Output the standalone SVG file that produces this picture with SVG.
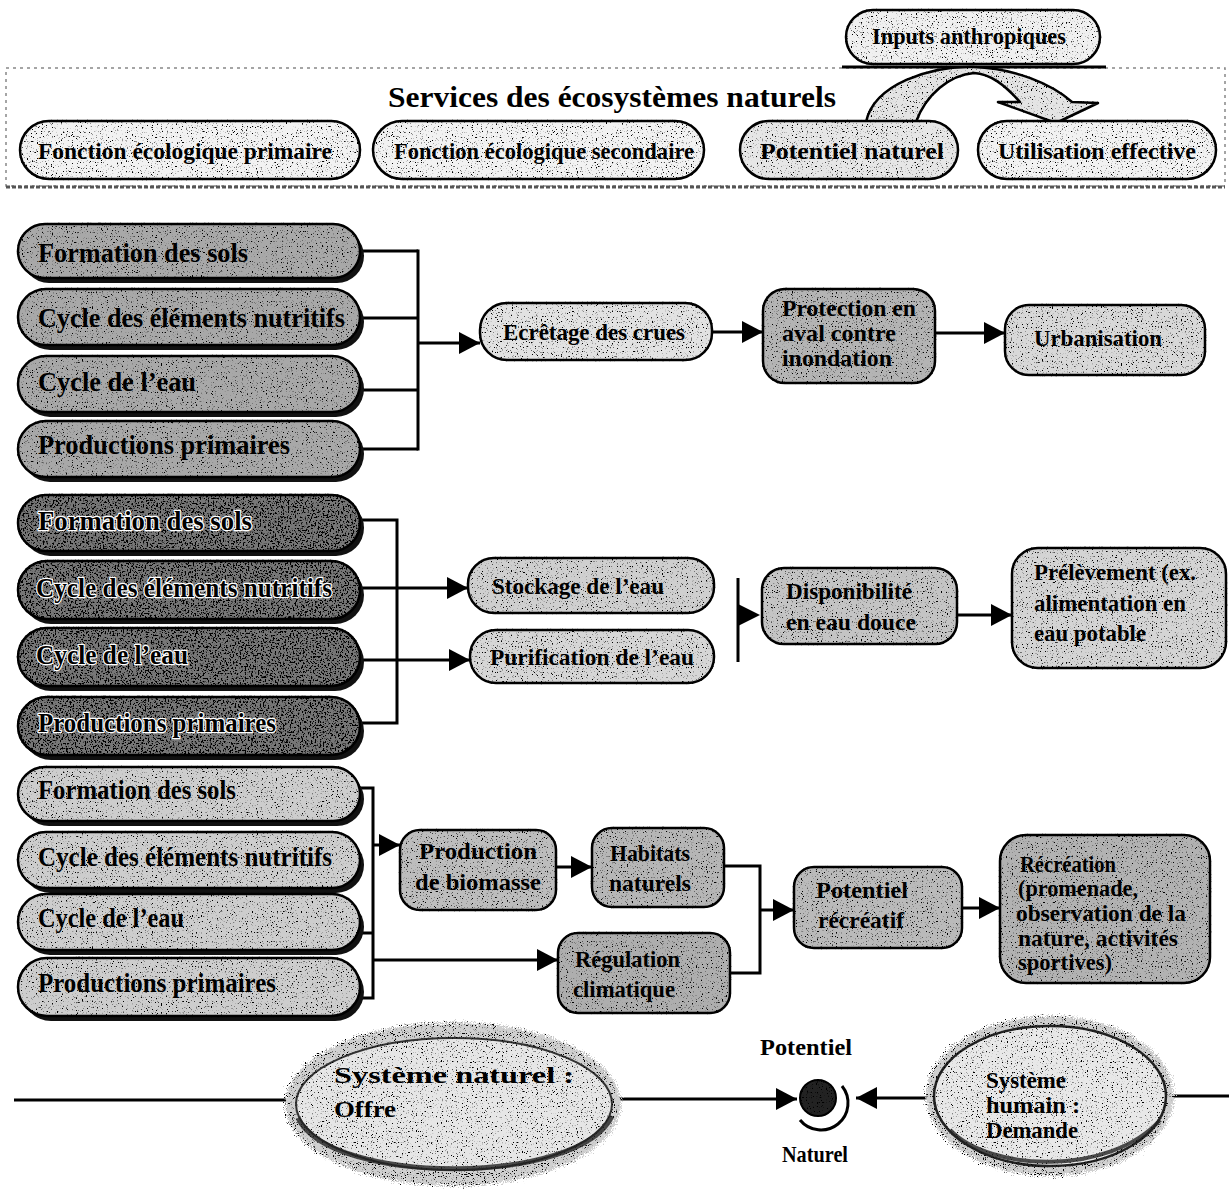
<svg xmlns="http://www.w3.org/2000/svg" width="1229" height="1192" viewBox="0 0 1229 1192">
<defs>
<style>
text{font-family:"Liberation Serif","Times New Roman",serif;font-weight:bold;fill:#000;}
.t26{font-size:28px;}
.t22{font-size:23.5px;}
.t21{font-size:22.5px;}
.halo{stroke:#fff;stroke-width:2.5px;paint-order:stroke;stroke-linejoin:round;}
.pill{stroke:#000;stroke-width:2.5;filter:url(#grain);}
.pillD{stroke:#000;stroke-width:2.5;filter:url(#grainD);}
.shadow{fill:#111;}
.conn{fill:none;stroke:#000;stroke-width:3;}
.arr{fill:none;stroke:#000;stroke-width:3;marker-end:url(#ah);}
.box{stroke:#000;stroke-width:2.5;filter:url(#grain);}
</style>
<filter id="grain" x="-5%" y="-5%" width="110%" height="110%">
<feTurbulence type="fractalNoise" baseFrequency="0.8" numOctaves="1" seed="7" result="noise"/>
<feColorMatrix in="noise" type="matrix" values="0 0 0 0 0  0 0 0 0 0  0 0 0 0 0  10 0 0 0 -6.0" result="dots"/>
<feComposite in="dots" in2="SourceGraphic" operator="in" result="clipped"/>
<feMerge><feMergeNode in="SourceGraphic"/><feMergeNode in="clipped"/></feMerge>
</filter>
<filter id="grainD" x="-5%" y="-5%" width="110%" height="110%">
<feTurbulence type="fractalNoise" baseFrequency="0.6" numOctaves="2" seed="3" result="noise"/>
<feColorMatrix in="noise" type="matrix" values="0 0 0 0 0  0 0 0 0 0  0 0 0 0 0  9 0 0 0 -4.6" result="dots"/>
<feComposite in="dots" in2="SourceGraphic" operator="in" result="clipped"/>
<feMerge><feMergeNode in="SourceGraphic"/><feMergeNode in="clipped"/></feMerge>
</filter>
<filter id="fuzz" x="-10%" y="-10%" width="120%" height="120%">
<feTurbulence type="fractalNoise" baseFrequency="0.9" numOctaves="1" seed="11" result="noise"/>
<feDisplacementMap in="SourceGraphic" in2="noise" scale="14" xChannelSelector="R" yChannelSelector="G" result="disp"/>
<feColorMatrix in="noise" type="matrix" values="0 0 0 0 0  0 0 0 0 0  0 0 0 0 0  10 0 0 0 -5.8" result="dots"/>
<feComposite in="dots" in2="disp" operator="in" result="clipped"/>
<feMerge><feMergeNode in="disp"/><feMergeNode in="clipped"/></feMerge>
</filter>
<marker id="ah" viewBox="0 0 10 10" refX="10" refY="5" markerWidth="21" markerHeight="22" markerUnits="userSpaceOnUse" orient="auto" preserveAspectRatio="none">
<path d="M0,0 L10,5 L0,10 z" fill="#000"/>
</marker>
</defs>
<rect width="1229" height="1192" fill="#fff"/>

<!-- top frame -->
<g id="frame">
<path d="M6,68 H1225 V186 H6 Z" fill="none" stroke="#888" stroke-width="1.5" stroke-dasharray="3 4"/>
<line x1="6" y1="187" x2="1225" y2="187" stroke="#555" stroke-width="3" stroke-dasharray="4 2"/>
<line x1="842" y1="67" x2="1106" y2="67" stroke="#000" stroke-width="3"/>
</g>

<g id="inputs-anthropiques">
<rect x="846" y="10" width="254" height="54" rx="27" fill="#f0f0f0" class="pill"/>
<text x="872" y="44" class="t21" textLength="194" lengthAdjust="spacingAndGlyphs">Inputs anthropiques</text>
</g>

<g id="title">
<text x="388" y="107" style="font-size:30px" textLength="448" lengthAdjust="spacingAndGlyphs">Services des écosystèmes naturels</text>
</g>

<g id="curved-arrow">
<path d="M866,122 C874,84 930,66 973,67 C1014,68 1052,84 1072,102 L1098,103 L1056,123 L998,102 L1020,102 C1004,84 990,74 974,73 C950,75 926,94 916,122 Z" fill="#e4e4e4" stroke="#000" stroke-width="2.5" stroke-linejoin="round" filter="url(#grain)"/>
</g>

<g id="fonction-primaire">
<rect x="20" y="121" width="340" height="58" rx="29" fill="#f2f2f2" class="pill"/>
<text x="38" y="159" class="t21" textLength="294" lengthAdjust="spacingAndGlyphs">Fonction écologique primaire</text>
</g>
<g id="fonction-secondaire">
<rect x="373" y="121" width="331" height="58" rx="29" fill="#f2f2f2" class="pill"/>
<text x="394" y="159" class="t21" textLength="300" lengthAdjust="spacingAndGlyphs">Fonction écologique secondaire</text>
</g>
<g id="potentiel-naturel">
<rect x="740" y="121" width="218" height="58" rx="29" fill="#e6e6e6" class="pill"/>
<text x="760" y="159" class="t21" textLength="184" lengthAdjust="spacingAndGlyphs">Potentiel naturel</text>
</g>
<g id="utilisation-effective">
<rect x="978" y="121" width="238" height="58" rx="29" fill="#f2f2f2" class="pill"/>
<text x="998" y="159" class="t21" textLength="198" lengthAdjust="spacingAndGlyphs">Utilisation effective</text>
</g>

<!-- connectors -->
<g id="connectors">
<!-- group 1 -->
<polyline class="conn" points="360,251 418,251"/>
<polyline class="conn" points="360,318 418,318"/>
<polyline class="conn" points="360,390 418,390"/>
<polyline class="conn" points="360,449 418,449"/>
<line class="conn" x1="418" y1="249.5" x2="418" y2="450.5"/>
<line class="arr" x1="418" y1="343" x2="480" y2="343"/>
<line class="arr" x1="712" y1="332" x2="763" y2="332"/>
<line class="arr" x1="935" y1="333" x2="1005" y2="333"/>
<!-- group 2 -->
<polyline class="conn" points="360,520 397,520 397,723 360,723"/>
<line class="arr" x1="360" y1="588" x2="468" y2="588"/>
<line class="arr" x1="360" y1="660" x2="470" y2="660"/>
<line class="conn" x1="738" y1="578" x2="738" y2="662"/>
<path d="M738,604 L760,615 L738,626 Z" fill="#000"/>
<line class="arr" x1="957" y1="615" x2="1012" y2="615"/>
<!-- group 3 -->
<polyline class="conn" points="360,788 373,788 373,998 360,998"/>
<line class="conn" x1="360" y1="933" x2="373" y2="933"/>
<line class="arr" x1="373" y1="845" x2="400" y2="845"/>
<line class="arr" x1="373" y1="960" x2="558" y2="960"/>
<line class="arr" x1="556" y1="867" x2="592" y2="867"/>
<polyline class="conn" points="724,866 760,866 760,973 730,973"/>
<line class="arr" x1="760" y1="910" x2="794" y2="910"/>
<line class="arr" x1="962" y1="908" x2="1000" y2="908"/>
<!-- bottom -->
<line class="conn" x1="14" y1="1100" x2="292" y2="1100"/>
<line class="arr" x1="616" y1="1099" x2="797" y2="1099"/>
<line class="arr" x1="935" y1="1098" x2="856" y2="1098"/>
<line class="conn" x1="1166" y1="1096" x2="1229" y2="1096"/>
</g>

<!-- group 1 pills -->
<g id="g1-formation-sols">
<rect x="22" y="229" width="342" height="54" rx="27" class="shadow"/>
<rect x="18" y="224" width="342" height="54" rx="27" fill="#a8a8a8" class="pill"/>
<text x="38" y="262" class="t26" textLength="210" lengthAdjust="spacingAndGlyphs">Formation des sols</text>
</g>
<g id="g1-cycle-nutritifs">
<rect x="22" y="294" width="342" height="56" rx="28" class="shadow"/>
<rect x="18" y="289" width="342" height="56" rx="28" fill="#a8a8a8" class="pill"/>
<text x="38" y="327" class="t26" textLength="307" lengthAdjust="spacingAndGlyphs">Cycle des éléments nutritifs</text>
</g>
<g id="g1-cycle-eau">
<rect x="22" y="361" width="342" height="56" rx="28" class="shadow"/>
<rect x="18" y="356" width="342" height="56" rx="28" fill="#a8a8a8" class="pill"/>
<text x="38" y="391" class="t26" textLength="158" lengthAdjust="spacingAndGlyphs">Cycle de l’eau</text>
</g>
<g id="g1-productions">
<rect x="22" y="426" width="342" height="56" rx="28" class="shadow"/>
<rect x="18" y="421" width="342" height="56" rx="28" fill="#a8a8a8" class="pill"/>
<text x="38" y="454" class="t26" textLength="252" lengthAdjust="spacingAndGlyphs">Productions primaires</text>
</g>

<g id="ecretage">
<rect x="480" y="303" width="232" height="57" rx="27" fill="#e2e2e2" class="box"/>
<text x="503" y="340" class="t22" textLength="182" lengthAdjust="spacingAndGlyphs">Ecrêtage des crues</text>
</g>
<g id="protection">
<rect x="763" y="289" width="172" height="94" rx="22" fill="#b4b4b4" class="box" stroke-width="3"/>
<text x="782" y="316" class="t22" textLength="134" lengthAdjust="spacingAndGlyphs">Protection en</text>
<text x="782" y="341" class="t22" textLength="114" lengthAdjust="spacingAndGlyphs">aval contre</text>
<text x="782" y="366" class="t22" textLength="110" lengthAdjust="spacingAndGlyphs">inondation</text>
</g>
<g id="urbanisation">
<rect x="1005" y="305" width="200" height="70" rx="24" fill="#d8d8d8" class="box"/>
<text x="1034" y="346" class="t22" textLength="128" lengthAdjust="spacingAndGlyphs">Urbanisation</text>
</g>

<!-- group 2 pills -->
<g id="g2-formation-sols">
<rect x="22" y="500" width="342" height="56" rx="28" class="shadow"/>
<rect x="18" y="495" width="342" height="56" rx="28" fill="#777" class="pillD"/>
<text x="38" y="530" class="t26 halo" textLength="214" lengthAdjust="spacingAndGlyphs">Formation des sols</text>
</g>
<g id="g2-cycle-nutritifs">
<rect x="22" y="566" width="342" height="58" rx="29" class="shadow"/>
<rect x="18" y="561" width="342" height="58" rx="29" fill="#777" class="pillD"/>
<text x="36" y="597" class="t26 halo" textLength="296" lengthAdjust="spacingAndGlyphs">Cycle des éléments nutritifs</text>
</g>
<g id="g2-cycle-eau">
<rect x="22" y="633" width="342" height="58" rx="29" class="shadow"/>
<rect x="18" y="628" width="342" height="58" rx="29" fill="#777" class="pillD"/>
<text x="36" y="664" class="t26 halo" textLength="152" lengthAdjust="spacingAndGlyphs">Cycle de l’eau</text>
</g>
<g id="g2-productions">
<rect x="22" y="702" width="342" height="58" rx="29" class="shadow"/>
<rect x="18" y="697" width="342" height="58" rx="29" fill="#777" class="pillD"/>
<text x="38" y="732" class="t26 halo" textLength="238" lengthAdjust="spacingAndGlyphs">Productions primaires</text>
</g>

<g id="stockage">
<rect x="468" y="558" width="246" height="55" rx="26" fill="#cfcfcf" class="box"/>
<text x="492" y="594" class="t22" textLength="172" lengthAdjust="spacingAndGlyphs">Stockage de l’eau</text>
</g>
<g id="purification">
<rect x="470" y="630" width="244" height="53" rx="26" fill="#d6d6d6" class="box"/>
<text x="490" y="665" class="t22" textLength="204" lengthAdjust="spacingAndGlyphs">Purification de l’eau</text>
</g>
<g id="disponibilite">
<rect x="762" y="568" width="195" height="76" rx="22" fill="#c4c4c4" class="box"/>
<text x="786" y="599" class="t22" textLength="126" lengthAdjust="spacingAndGlyphs">Disponibilité</text>
<text x="786" y="630" class="t22" textLength="130" lengthAdjust="spacingAndGlyphs">en eau douce</text>
</g>
<g id="prelevement">
<rect x="1012" y="548" width="214" height="120" rx="26" fill="#d4d4d4" class="box" stroke-width="3"/>
<text x="1034" y="580" class="t22" textLength="162" lengthAdjust="spacingAndGlyphs">Prélèvement (ex.</text>
<text x="1034" y="611" class="t22" textLength="152" lengthAdjust="spacingAndGlyphs">alimentation en</text>
<text x="1034" y="641" class="t22" textLength="112" lengthAdjust="spacingAndGlyphs">eau potable</text>
</g>

<!-- group 3 pills -->
<g id="g3-formation-sols">
<rect x="22" y="772" width="342" height="54" rx="27" class="shadow"/>
<rect x="18" y="767" width="342" height="54" rx="27" fill="#cdcdcd" class="pill"/>
<text x="38" y="799" class="t26" textLength="198" lengthAdjust="spacingAndGlyphs">Formation des sols</text>
</g>
<g id="g3-cycle-nutritifs">
<rect x="22" y="837" width="342" height="56" rx="28" class="shadow"/>
<rect x="18" y="832" width="342" height="56" rx="28" fill="#cdcdcd" class="pill"/>
<text x="38" y="866" class="t26" textLength="294" lengthAdjust="spacingAndGlyphs">Cycle des éléments nutritifs</text>
</g>
<g id="g3-cycle-eau">
<rect x="22" y="899" width="342" height="56" rx="28" class="shadow"/>
<rect x="18" y="894" width="342" height="56" rx="28" fill="#cdcdcd" class="pill"/>
<text x="38" y="927" class="t26" textLength="146" lengthAdjust="spacingAndGlyphs">Cycle de l’eau</text>
</g>
<g id="g3-productions">
<rect x="22" y="963" width="342" height="58" rx="29" class="shadow"/>
<rect x="18" y="958" width="342" height="58" rx="29" fill="#cdcdcd" class="pill"/>
<text x="38" y="992" class="t26" textLength="238" lengthAdjust="spacingAndGlyphs">Productions primaires</text>
</g>

<g id="production-biomasse">
<rect x="400" y="830" width="156" height="80" rx="20" fill="#bdbdbd" class="box"/>
<text x="478" y="859" class="t22" text-anchor="middle" textLength="118" lengthAdjust="spacingAndGlyphs">Production</text>
<text x="478" y="890" class="t22" text-anchor="middle" textLength="126" lengthAdjust="spacingAndGlyphs">de biomasse</text>
</g>
<g id="habitats">
<rect x="592" y="828" width="132" height="79" rx="20" fill="#b6b6b6" class="box"/>
<text x="650" y="861" class="t22" text-anchor="middle" textLength="80" lengthAdjust="spacingAndGlyphs">Habitats</text>
<text x="650" y="891" class="t22" text-anchor="middle" textLength="82" lengthAdjust="spacingAndGlyphs">naturels</text>
</g>
<g id="regulation">
<rect x="558" y="933" width="172" height="80" rx="20" fill="#aeaeae" class="box"/>
<text x="575" y="967" class="t22" textLength="105" lengthAdjust="spacingAndGlyphs">Régulation</text>
<text x="573" y="997" class="t22" textLength="102" lengthAdjust="spacingAndGlyphs">climatique</text>
</g>
<g id="potentiel-recreatif">
<rect x="794" y="867" width="168" height="81" rx="20" fill="#bababa" class="box"/>
<text x="816" y="898" class="t22" textLength="92" lengthAdjust="spacingAndGlyphs">Potentiel</text>
<text x="818" y="928" class="t22" textLength="86" lengthAdjust="spacingAndGlyphs">récréatif</text>
</g>
<g id="recreation">
<rect x="1000" y="835" width="210" height="148" rx="26" fill="#b2b2b2" class="box" stroke-width="3"/>
<text x="1020" y="872" class="t22" textLength="96" lengthAdjust="spacingAndGlyphs">Récréation</text>
<text x="1018" y="896" class="t22" textLength="120" lengthAdjust="spacingAndGlyphs">(promenade,</text>
<text x="1016" y="921" class="t22" textLength="170" lengthAdjust="spacingAndGlyphs">observation de la</text>
<text x="1018" y="946" class="t22" textLength="160" lengthAdjust="spacingAndGlyphs">nature, activités</text>
<text x="1018" y="970" class="t22" textLength="94" lengthAdjust="spacingAndGlyphs">sportives)</text>
</g>

<!-- bottom -->
<g id="systeme-naturel">
<ellipse cx="453" cy="1104" rx="168" ry="82" fill="#d0d0d0" filter="url(#fuzz)"/>
<ellipse cx="454" cy="1104" rx="158" ry="66" fill="#e6e6e6" stroke="#333" stroke-width="2" filter="url(#grain)"/>
<path d="M298,1118 C330,1186 580,1186 612,1116" fill="none" stroke="#222" stroke-width="5" opacity="0.8"/>
<text x="334" y="1083" class="t22" textLength="240" lengthAdjust="spacingAndGlyphs">Système  naturel :</text>
<text x="334" y="1117" class="t22" textLength="62" lengthAdjust="spacingAndGlyphs">Offre</text>
</g>

<g id="potentiel-naturel-point">
<circle cx="818" cy="1098" r="18" fill="#222" filter="url(#grain)"/>
<circle cx="818" cy="1098" r="18" fill="none" stroke="#000" stroke-width="2"/>
<path d="M842,1086 A26,26 0 0 1 800,1120" fill="none" stroke="#000" stroke-width="3"/>
<text x="760" y="1055" class="t22" textLength="92" lengthAdjust="spacingAndGlyphs">Potentiel</text>
<text x="782" y="1162" class="t22" textLength="66" lengthAdjust="spacingAndGlyphs">Naturel</text>
</g>

<g id="systeme-humain">
<ellipse cx="1050" cy="1096" rx="124" ry="80" fill="#d0d0d0" filter="url(#fuzz)"/>
<ellipse cx="1050" cy="1096" rx="116" ry="70" fill="#e8e8e8" stroke="#222" stroke-width="2.5" filter="url(#grain)"/>
<path d="M950,1130 C990,1172 1110,1176 1160,1120" fill="none" stroke="#222" stroke-width="4" opacity="0.8"/>
<text x="986" y="1088" class="t22" textLength="80" lengthAdjust="spacingAndGlyphs">Système</text>
<text x="986" y="1113" class="t22" textLength="94" lengthAdjust="spacingAndGlyphs">humain :</text>
<text x="986" y="1138" class="t22" textLength="92" lengthAdjust="spacingAndGlyphs">Demande</text>
</g>
</svg>
